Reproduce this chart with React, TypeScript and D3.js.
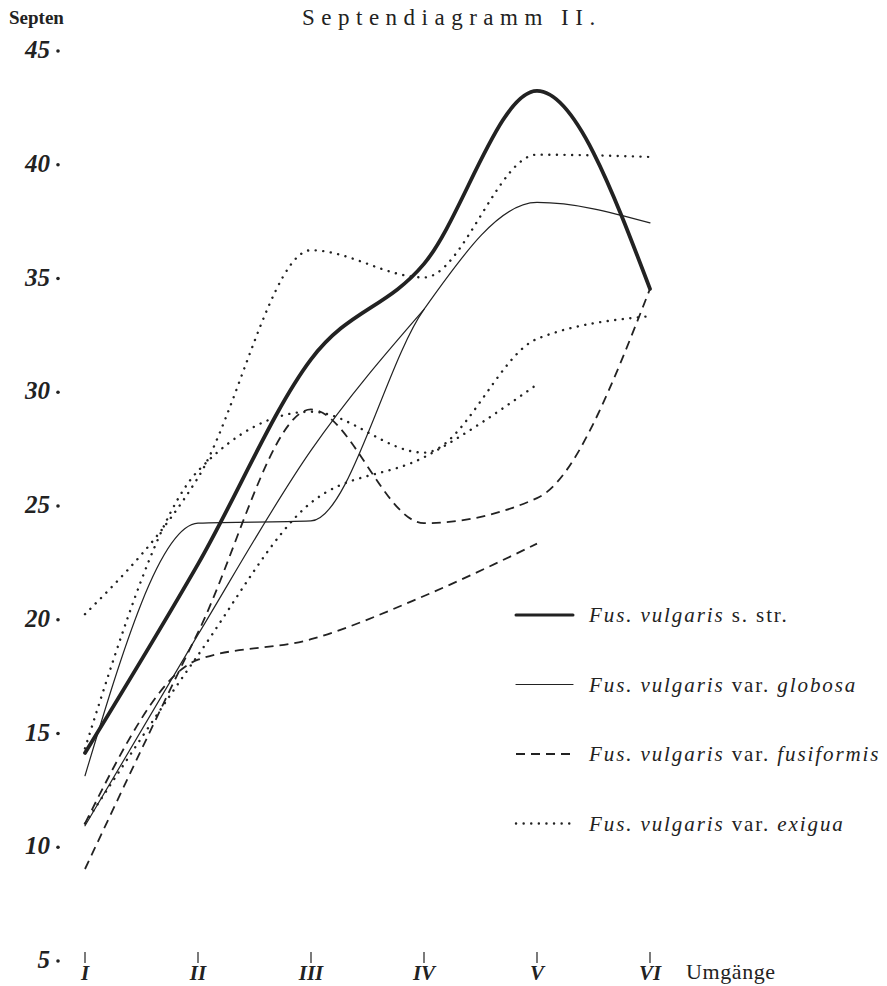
import React, { useEffect, useRef } from 'react';
import * as d3 from 'd3';

// Umgänge (whorls) on the x axis
const whorls = ['I', 'II', 'III', 'IV', 'V', 'VI'];
const septenTicks = [45, 40, 35, 30, 25, 20, 15, 10, 5];

// Septen per Umgang
const strVals = [14.1, 22.4, 31.4, 35.6, 43.2, 34.5];
const globosaA = [13.1, 24.2, 24.3, 33.6, 38.3, 37.4];
const globosaB = [10.9, 19.3, 27.4, 33.6, null, null];
const fusiformisA = [9, 19.4, 29.2, 24.2, 25.3, 34.5];
const fusiformisB = [11, 18.2, 19.1, 21, 23.3, null];
const exiguaA = [20.2, 26.2, 36.2, 35.0, 40.4, 40.3];
const exiguaB = [14.3, 26.5, 29.1, 27.3, 32.3, 33.3];
const exiguaC = [11, 18.4, 25.1, 27.1, 30.3, null];

const legendItems = [
  { name: 's. str.', italicTail: false, style: 'thick' },
  { name: 'globosa', italicTail: true, style: 'thin' },
  { name: 'fusiformis', italicTail: true, style: 'dashed' },
  { name: 'exigua', italicTail: true, style: 'dotted' },
];

const INK = '#222';
const SERIF = 'Liberation Serif, serif';

const styles = {
  thick: { width: 3.8, dash: null, cap: 'round' },
  thin: { width: 1.2, dash: null, cap: 'round' },
  dashed: { width: 1.8, dash: '9 6', cap: 'butt' },
  dotted: { width: 2.4, dash: '0.1 7.5', cap: 'round' },
};

const App = () => {
  const ref = useRef(null);

  useEffect(() => {
    const svg = d3.select(ref.current);
    svg.selectAll('*').remove();

    const width = 887;
    const height = 986;

    const x = d3.scalePoint().domain(whorls).range([85, 650]);
    const y = d3.scaleLinear().domain([5, 45]).range([960, 50]);

    svg.append('rect').attr('width', width).attr('height', height).attr('fill', '#fff');

    // title and y label
    svg.append('text')
      .attr('x', 302).attr('y', 25)
      .attr('font-family', SERIF)
      .attr('font-size', 23)
      .attr('letter-spacing', 6.5)
      .attr('fill', INK)
      .text('Septendiagramm II.');

    svg.append('text')
      .attr('x', 9).attr('y', 24)
      .attr('font-family', SERIF)
      .attr('font-size', 19)
      .attr('font-weight', 'bold')
      .attr('fill', INK)
      .text('Septen');

    // y axis: numbers with a dot
    const yAxis = svg.append('g');
    septenTicks.forEach(t => {
      yAxis.append('text')
        .attr('x', 50).attr('y', y(t) + 8)
        .attr('text-anchor', 'end')
        .attr('font-family', SERIF)
        .attr('font-style', 'italic')
        .attr('font-weight', 'bold')
        .attr('font-size', 25)
        .attr('fill', INK)
        .text(t);
      yAxis.append('circle')
        .attr('cx', 58).attr('cy', y(t) + 1)
        .attr('r', 1.8)
        .attr('fill', INK);
    });

    // x axis: small tick with roman numeral
    const xAxis = svg.append('g');
    whorls.forEach(w => {
      xAxis.append('line')
        .attr('x1', x(w)).attr('x2', x(w))
        .attr('y1', 952).attr('y2', 963)
        .attr('stroke', INK).attr('stroke-width', 1.2);
      xAxis.append('text')
        .attr('x', x(w)).attr('y', 980)
        .attr('text-anchor', 'middle')
        .attr('font-family', SERIF)
        .attr('font-style', 'italic')
        .attr('font-weight', 'bold')
        .attr('font-size', 21)
        .attr('fill', INK)
        .text(w);
    });
    svg.append('text')
      .attr('x', 686).attr('y', 979)
      .attr('font-family', SERIF)
      .attr('font-size', 22)
      .attr('letter-spacing', 0.6)
      .attr('fill', INK)
      .text('Umgänge');

    const line = d3.line()
      .defined(d => d.v != null)
      .x(d => x(d.w))
      .y(d => y(d.v))
      .curve(d3.curveMonotoneX);

    const series = [
      { vals: exiguaA, style: 'dotted' },
      { vals: exiguaB, style: 'dotted' },
      { vals: exiguaC, style: 'dotted' },
      { vals: fusiformisA, style: 'dashed' },
      { vals: fusiformisB, style: 'dashed' },
      { vals: globosaA, style: 'thin' },
      { vals: globosaB, style: 'thin' },
      { vals: strVals, style: 'thick' },
    ];

    series.forEach(s => {
      const st = styles[s.style];
      const pts = s.vals.map((v, i) => ({ w: whorls[i], v }));
      svg.append('path')
        .datum(pts)
        .attr('fill', 'none')
        .attr('stroke', INK)
        .attr('stroke-width', st.width)
        .attr('stroke-linecap', st.cap)
        .attr('stroke-dasharray', st.dash)
        .attr('d', line);
    });

    // legend
    const legend = svg.append('g');
    legendItems.forEach((item, i) => {
      const ly = 615 + i * 69.5;
      const st = styles[item.style];
      legend.append('line')
        .attr('x1', 516).attr('x2', 573)
        .attr('y1', ly).attr('y2', ly)
        .attr('stroke', INK)
        .attr('stroke-width', item.style === 'thick' ? 3 : st.width)
        .attr('stroke-linecap', st.cap)
        .attr('stroke-dasharray', st.dash);
      const txt = legend.append('text')
        .attr('x', 589).attr('y', ly + 7)
        .attr('font-family', SERIF)
        .attr('font-size', 21)
        .attr('letter-spacing', 1.9)
        .attr('fill', INK);
      txt.append('tspan').attr('font-style', 'italic').text('Fus. vulgaris ');
      if (item.italicTail) {
        txt.append('tspan').text('var. ');
        txt.append('tspan').attr('font-style', 'italic').text(item.name);
      } else {
        txt.append('tspan').text(item.name);
      }
    });
  }, []);

  return (
    <svg
      ref={ref}
      width="887"
      height="986"
      style={{ position: 'absolute', left: 0, top: 0, display: 'block' }}
    ></svg>
  );
};

export default App;
